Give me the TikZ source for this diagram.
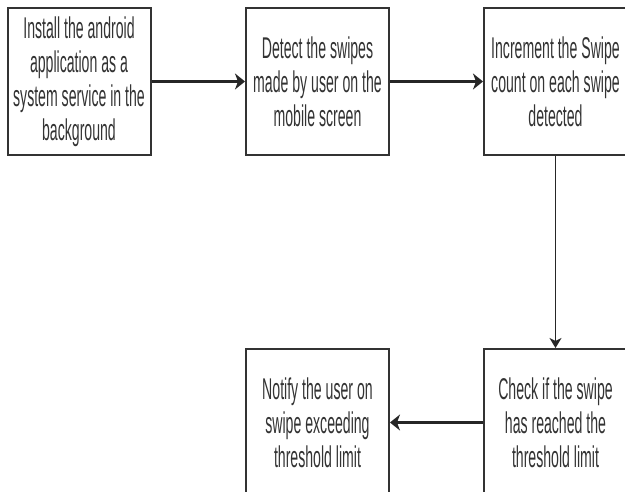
\documentclass[tikz,border=0pt]{standalone}
\usepackage{fontspec}
\setmainfont[FakeStretch=0.47]{Liberation Sans}
\usetikzlibrary{arrows.meta}
\begin{document}
\begin{tikzpicture}[x=1pt,y=1pt,
  stepbox/.style={draw=black!80, line width=2pt, minimum width=143pt, minimum height=147pt,
    inner sep=0pt, align=center, text=black!80,
    font=\fontsize{30}{34}\selectfont},
  conn/.style={draw=black!85, line width=2.2pt, -{Stealth[length=10pt,width=16pt,inset=3pt]}}]
\useasboundingbox (0,0) rectangle (625,-492);
\clip (0,0) rectangle (625,-492);
\node[stepbox] (a) at (79,-81.5) {Install the android\\application as a\\system service in the\\background};
\node[stepbox] (b) at (317.5,-81.5) {Detect the swipes\\made by user on the\\mobile screen};
\node[stepbox] (c) at (555.5,-81.5) {Increment the Swipe\\count on each swipe\\detected};
\node[stepbox] (d) at (555.5,-422.5) {Check if the swipe\\has reached the\\threshold limit};
\node[stepbox] (e) at (317.5,-422.5) {Notify the user on\\swipe exceeding\\threshold limit};
\draw[conn] (a) -- (b);
\draw[conn] (b) -- (c);
\draw[conn, line width=1.4pt, -{Stealth[length=10pt,width=12pt,inset=3pt]}] (c) -- (d);
\draw[conn] (d) -- (e);
\end{tikzpicture}
\end{document}
